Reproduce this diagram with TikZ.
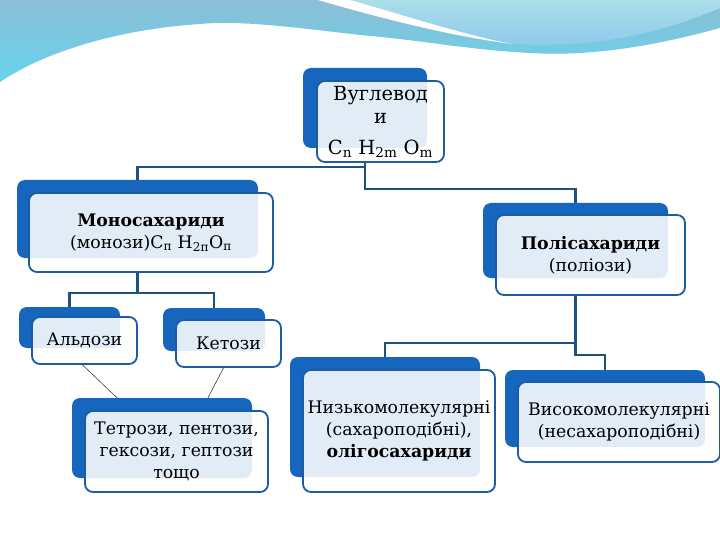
\documentclass[tikz,border=0pt]{standalone}
\usepackage{fontspec}
\setmainfont{DejaVu Serif}
\usetikzlibrary{positioning}
\definecolor{boxblue}{RGB}{22,102,190}
\definecolor{edgeblue}{RGB}{28,92,165}
\definecolor{linkblue}{RGB}{30,82,130}
\definecolor{skytop}{RGB}{140,190,214}
\definecolor{skybot}{RGB}{100,212,236}
\definecolor{lighttop}{RGB}{170,222,232}
\definecolor{lightbot}{RGB}{140,200,236}

\begin{document}
\begin{tikzpicture}[
    x=1pt, y=-1pt,
    every node/.style={font=\fontsize{17.3}{22}\selectfont},
    back/.style={fill=boxblue, rounded corners=8pt, inner sep=0pt},
    front/.style={draw=edgeblue, line width=1.8pt, fill=white, fill opacity=0.88,
                  text opacity=1, rounded corners=8pt, align=center, inner sep=0pt},
    link/.style={draw=linkblue, line width=2.2pt},
    thinlink/.style={draw=black!75, line width=0.6pt}
]

    % Page
    \fill[white] (0,0) rectangle (720,540);
    \useasboundingbox (0,0) rectangle (720,540);

    % Waves on top
    \shade[top color=skytop, bottom color=skybot]
        (0,0) -- (720,0) -- (720,28)
        .. controls (640,50) and (580,56) .. (530,53)
        .. controls (470,50) and (420,40) .. (360,35)
        .. controls (300,28) and (240,20) .. (200,24)
        .. controls (110,30) and (40,55) .. (0,82) -- cycle;
    \shade[top color=lighttop, bottom color=lightbot]
        (348,0) .. controls (400,16) and (460,36) .. (512,44)
        .. controls (610,50) and (680,25) .. (720,8) -- (720,0) -- cycle;
    \fill[white]
        (318,0) .. controls (380,18) and (450,36) .. (512,44)
        .. controls (460,34) and (400,14) .. (350,0) -- cycle;

    % Back boxes
    \foreach \n/\x/\y/\w/\h in {carb/365/108/124/80, mono/137.5/219/241/78,
        aldo/69.5/327.5/101/41, keto/214/329.5/102/43, tetro/162/438/180/80,
        poly/575.5/240.5/185/75, low/385/417/190/120, high/605/408.5/200/77} {
        \node[back, minimum width=\w, minimum height=\h] (\n-b) at (\x,\y) {};
    }

    % Front boxes
    \node[front, minimum width=127, minimum height=81, font=\fontsize{19.5}{23}\selectfont]
        (carb) at (380.5,121.5)
        {Вуглевод\\и\\[8pt]C\textsubscript{n} H\textsubscript{2m} O\textsubscript{m}};
    \node[front, minimum width=244, minimum height=79] (mono) at (151,232.5)
        {\textbf{Моносахариди}\\(монози)C\textsubscript{п} H\textsubscript{2п}O\textsubscript{п}};
    \node[front, minimum width=105, minimum height=47] (aldo) at (84.5,340.5) {Альдози};
    \node[front, minimum width=105, minimum height=47] (keto) at (228.5,343.5) {Кетози};
    \node[front, minimum width=183, minimum height=81] (tetro) at (176.5,451.5)
        {Тетрози, пентози,\\гексози, гептози\\тощо};
    \node[front, minimum width=189, minimum height=80] (poly) at (590.5,255)
        {\textbf{Полісахариди}\\(поліози)};
    \node[front, minimum width=192, minimum height=122] (low) at (399,431)
        {Низькомолекулярні\\(сахароподібні),\\\textbf{олігосахариди}};
    \node[front, minimum width=202, minimum height=80] (high) at (619,422)
        {Високомолекулярні\\(несахароподібні)};

    % Tree links
    \draw[link] (carb-b.south |- carb.south) |- ([yshift=13pt]mono-b.north) -- (mono-b.north);
    \draw[link] (carb-b.south |- carb.south) |- ([yshift=14pt]poly-b.north) -- (poly-b.north);
    \draw[link] (mono-b.south |- mono.south) |- ([yshift=14pt]aldo-b.north) -- (aldo-b.north);
    \draw[link] (mono-b.south |- mono.south) |- ([yshift=15pt]keto-b.north) -- (keto-b.north);
    \draw[link] (poly-b.south |- poly.south) |- ([yshift=14pt]low-b.north) -- (low-b.north);
    \draw[link] (poly-b.south |- poly.south) |- ([yshift=15pt]high-b.north) -- (high-b.north);

    % Thin links to the examples
    \draw[thinlink] ([xshift=-2pt]aldo.south) -- ([xshift=-45pt]tetro-b.north);
    \draw[thinlink] ([xshift=-5pt]keto.south) -- ([xshift=46pt]tetro-b.north);

\end{tikzpicture}
\end{document}
